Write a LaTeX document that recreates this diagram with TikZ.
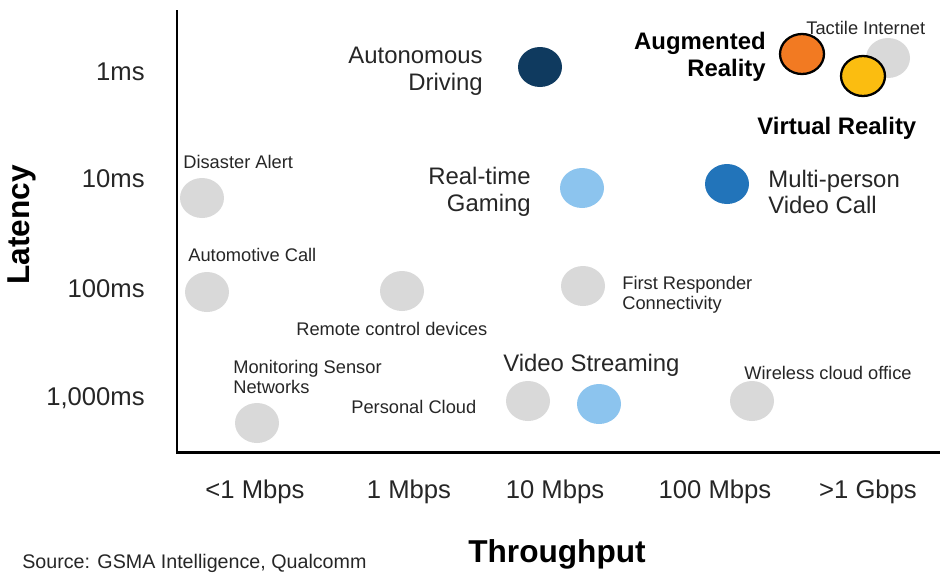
\documentclass[tikz,border=0pt]{standalone}
\usepackage{fontspec}
\setmainfont{Liberation Sans}
\usetikzlibrary{shapes.geometric}
\definecolor{dotgrey}{HTML}{D9D9D9}
\definecolor{navydot}{HTML}{0F3A5F}
\definecolor{bluedot}{HTML}{2274BA}
\definecolor{skydot}{HTML}{8CC4EE}
\definecolor{orangedot}{HTML}{F27A22}
\definecolor{yellowdot}{HTML}{FBBD10}
\definecolor{labelgrey}{HTML}{262626}
\tikzset{
  dot/.style={ellipse,minimum width=0.88cm,minimum height=0.8cm,inner sep=0pt},
  ringdot/.style={dot,draw=black,line width=1.3pt},
  biglabel/.style={font=\fontsize{13.6}{15.3}\selectfont,text=labelgrey,inner sep=0pt},
  boldlabel/.style={font=\fontsize{13.6}{15.3}\selectfont\bfseries,text=black,inner sep=0pt},
  smalllabel/.style={font=\fontsize{10.4}{11.3}\selectfont,text=labelgrey,inner sep=0pt},
  ticklabel/.style={font=\fontsize{14.6}{17}\selectfont,text=labelgrey,inner sep=0pt},
  axistitle/.style={font=\fontsize{18}{20}\selectfont\bfseries,inner sep=0pt},
}

\begin{document}
\begin{tikzpicture}[x=0.02cm,y=-0.02cm]
\useasboundingbox (0,0) rectangle (940,572);
% axes
\coordinate (top) at (177,10);
\coordinate (origin) at (177,452);
\coordinate (right) at (940,452);
\draw[line width=1.7pt] (top) -- (origin) -- (right);
\node[axistitle,rotate=90] (latency) at (22,225) {Latency};
\node[axistitle] (throughput) at (557,554) {Throughput};
\node[font=\fontsize{11.2}{13}\selectfont,text=labelgrey,anchor=west,inner sep=0pt] (source) at (22,563) {Source: GSMA Intelligence, Qualcomm};
% tick labels
\node[ticklabel,anchor=east] (t1) at (145,72) {1ms};
\node[ticklabel,anchor=east] (t10) at (145,179) {10ms};
\node[ticklabel,anchor=east] (t100) at (145,289) {100ms};
\node[ticklabel,anchor=east] (t1000) at (145,398) {1,000ms};
\node[ticklabel] (r1) at (255,492) {<1 Mbps};
\node[ticklabel] (r2) at (409,492) {1 Mbps};
\node[ticklabel] (r3) at (555,492) {10 Mbps};
\node[ticklabel] (r4) at (715,492) {100 Mbps};
\node[ticklabel] (r5) at (868,492) {>1 Gbps};
% dots
\node[dot,fill=dotgrey] (tactile) at (888,58) {};
\node[ringdot,fill=orangedot] (ar) at (802,54) {};
\node[ringdot,fill=yellowdot] (vr) at (863,76) {};
\node[dot,fill=navydot] (driving) at (540,67) {};
\node[dot,fill=skydot] (gaming) at (582,188) {};
\node[dot,fill=bluedot] (videocall) at (727,184) {};
\node[dot,fill=dotgrey] (disaster) at (202,198) {};
\node[dot,fill=dotgrey] (automotive) at (207,292) {};
\node[dot,fill=dotgrey] (remote) at (402,291) {};
\node[dot,fill=dotgrey] (responder) at (583,286) {};
\node[dot,fill=dotgrey] (sensor) at (257,423) {};
\node[dot,fill=dotgrey] (cloud) at (528,401) {};
\node[dot,fill=skydot] (streaming) at (599,404) {};
\node[dot,fill=dotgrey] (office) at (752,401) {};
% labels
\node[smalllabel,anchor=west] (tactilelbl) at (806,28) {Tactile Internet};
\node[boldlabel,align=right,anchor=east] (arlbl) at (766,57) {Augmented\\Reality};
\node[boldlabel,anchor=west] (vrlbl) at (757,128) {Virtual Reality};
\node[biglabel,align=right,anchor=east] (drivinglbl) at (483,71) {Autonomous\\Driving};
\node[biglabel,align=right,anchor=east] (gaminglbl) at (531,192) {Real-time\\Gaming};
\node[biglabel,align=left,anchor=west] (videocalllbl) at (768,192) {Multi-person\\Video Call};
\node[smalllabel,anchor=west] (disasterlbl) at (183,162) {Disaster Alert};
\node[smalllabel,anchor=west] (automotivelbl) at (188,255) {Automotive Call};
\node[smalllabel,anchor=west] (remotelbl) at (296,329) {Remote control devices};
\node[smalllabel,align=left,anchor=west] (responderlbl) at (622,295) {First Responder\\Connectivity};
\node[smalllabel,align=left,anchor=west] (sensorlbl) at (233,377) {Monitoring Sensor\\Networks};
\node[smalllabel,anchor=west] (cloudlbl) at (351,407) {Personal Cloud};
\node[biglabel,anchor=west] (streaminglbl) at (503,365) {Video Streaming};
\node[smalllabel,anchor=west] (officelbl) at (744,373) {Wireless cloud office};
\end{tikzpicture}
\end{document}
